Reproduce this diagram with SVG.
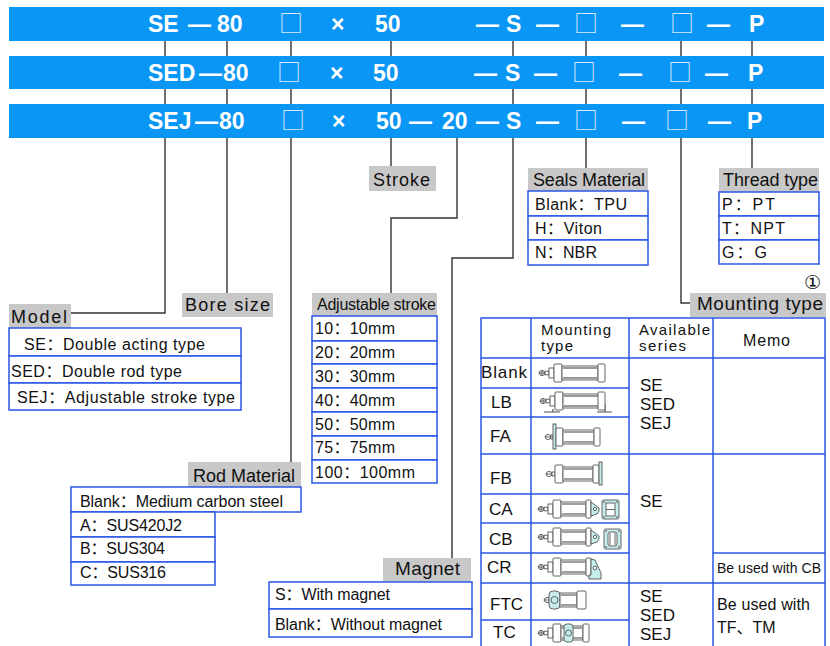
<svg xmlns="http://www.w3.org/2000/svg" width="830" height="646" viewBox="0 0 830 646">
<style>
text{font-family:"Liberation Sans","Noto Sans CJK SC",sans-serif;fill:#111}
.bt{font-weight:bold;font-size:23px;fill:#fff}
.sq{font-family:"Noto Sans CJK SC",sans-serif;font-size:24px;fill:#d6ebff}
.bar{fill:#0a96f5}
.lab{fill:#c8c8c8}
.lt{font-size:18px}
.cell{fill:#fff;stroke:#2a55e6;stroke-width:1.5}
.tl{stroke:#2a55e6;stroke-width:1.5;fill:none}
.ct{font-size:16px}
.ht{font-size:15px}
.conn{fill:none;stroke:#333;stroke-width:1.4}
.ic{fill:#fff;stroke:#555;stroke-width:0.9}
.cy{fill:#c6ecec;stroke:#555;stroke-width:0.9}
.in{stroke:#777;stroke-width:1.4}
</style>
<defs>
<g id="head">
<circle cx="3" cy="0" r="2.6" class="ic"/>
<line x1="-0.5" y1="0" x2="6.5" y2="0" stroke="#555" stroke-width="0.9"/>
<line x1="3" y1="-2.6" x2="3" y2="2.6" stroke="#555" stroke-width="0.9"/>
<rect x="6" y="-1.8" width="4" height="3.6" class="ic"/>
<rect x="10" y="-5" width="5" height="10" class="ic"/>
<rect x="15" y="-9" width="8" height="18" rx="1" class="ic"/>
</g>
<g id="tube36">
<rect x="0" y="-7" width="36" height="14" class="ic"/>
<line x1="1" y1="-5" x2="35" y2="-5" class="in"/>
<line x1="1" y1="5" x2="35" y2="5" class="in"/>
</g>
<g id="tube25">
<rect x="0" y="-7" width="25" height="14" class="ic"/>
<line x1="1" y1="-5" x2="24" y2="-5" class="in"/>
<line x1="1" y1="5" x2="24" y2="5" class="in"/>
</g>
</defs>
<rect width="830" height="646" fill="#fff"/>

<g id="connectors">
<path class="conn" d="M165,41 V313 H71"/>
<path class="conn" d="M227,41 V293"/>
<path class="conn" d="M291,41 V462"/>
<path class="conn" d="M391,41 V166"/>
<path class="conn" d="M457,138 V218 H391 V293"/>
<path class="conn" d="M513,41 V258 H452 V558"/>
<path class="conn" d="M586,41 V168"/>
<path class="conn" d="M681,41 V303 H690"/>
<path class="conn" d="M752,41 V168"/>
</g>

<g id="bar-SE">
<rect class="bar" x="9" y="7" width="815" height="34"/>
<text class="bt" x="148" y="32">SE</text>
<text class="bt" x="188" y="32">—</text>
<text class="bt" x="217" y="32">80</text>
<text class="sq" x="279" y="32">□</text>
<text class="bt" x="331" y="32">×</text>
<text class="bt" x="375" y="32">50</text>
<text class="bt" x="476" y="32">—</text>
<text class="bt" x="506" y="32">S</text>
<text class="bt" x="536" y="32">—</text>
<text class="sq" x="574" y="32">□</text>
<text class="bt" x="621" y="32">—</text>
<text class="sq" x="670" y="32">□</text>
<text class="bt" x="707" y="32">—</text>
<text class="bt" x="749" y="32">P</text>
</g>
<g id="bar-SED">
<rect class="bar" x="9" y="56" width="815" height="33"/>
<text class="bt" x="148" y="81">SED</text>
<text class="bt" x="199" y="81">—</text>
<text class="bt" x="223" y="81">80</text>
<text class="sq" x="277" y="81">□</text>
<text class="bt" x="330" y="81">×</text>
<text class="bt" x="373" y="81">50</text>
<text class="bt" x="474" y="81">—</text>
<text class="bt" x="505" y="81">S</text>
<text class="bt" x="534" y="81">—</text>
<text class="sq" x="572" y="81">□</text>
<text class="bt" x="619" y="81">—</text>
<text class="sq" x="668" y="81">□</text>
<text class="bt" x="705" y="81">—</text>
<text class="bt" x="748" y="81">P</text>
</g>
<g id="bar-SEJ">
<rect class="bar" x="9" y="104" width="815" height="34"/>
<text class="bt" x="148" y="129">SEJ</text>
<text class="bt" x="195" y="129">—</text>
<text class="bt" x="219" y="129">80</text>
<text class="sq" x="281" y="129">□</text>
<text class="bt" x="332" y="129">×</text>
<text class="bt" x="376" y="129">50</text>
<text class="bt" x="409" y="129">—</text>
<text class="bt" x="442" y="129">20</text>
<text class="bt" x="476" y="129">—</text>
<text class="bt" x="506" y="129">S</text>
<text class="bt" x="536" y="129">—</text>
<text class="sq" x="574" y="129">□</text>
<text class="bt" x="622" y="129">—</text>
<text class="sq" x="665" y="129">□</text>
<text class="bt" x="708" y="129">—</text>
<text class="bt" x="747" y="129">P</text>
</g>

<g id="model">
<rect class="lab" x="9" y="304" width="62" height="24"/>
<text class="lt" x="11" y="323" textLength="56">Model</text>
<rect class="cell" x="9" y="328" width="232" height="28"/>
<rect class="cell" x="9" y="356" width="232" height="27"/>
<rect class="cell" x="9" y="383" width="232" height="27"/>
<text class="ct" x="24" y="350" textLength="181">SE：Double acting type</text>
<text class="ct" x="11" y="377" textLength="171">SED：Double rod type</text>
<text class="ct" x="17" y="403" textLength="218">SEJ：Adjustable stroke type</text>
</g>

<g id="bore-size">
<rect class="lab" x="182" y="293" width="91" height="24"/>
<text class="lt" x="185" y="311" textLength="85">Bore size</text>
</g>

<g id="rod-material">
<rect class="lab" x="188" y="462" width="113" height="25"/>
<text class="lt" x="193" y="482" textLength="102">Rod Material</text>
<rect class="cell" x="71" y="487" width="230" height="25"/>
<rect class="cell" x="71" y="512" width="144" height="25"/>
<rect class="cell" x="71" y="537" width="144" height="25"/>
<rect class="cell" x="71" y="562" width="144" height="23"/>
<text class="ct" x="80" y="507" textLength="203">Blank：Medium carbon steel</text>
<text class="ct" x="80" y="531" textLength="102">A：SUS420J2</text>
<text class="ct" x="80" y="554" textLength="85">B：SUS304</text>
<text class="ct" x="80" y="578" textLength="86">C：SUS316</text>
</g>

<g id="stroke">
<rect class="lab" x="369" y="166" width="67" height="25"/>
<text class="lt" x="373" y="186" textLength="57">Stroke</text>
</g>

<g id="adjustable-stroke">
<rect class="lab" x="312" y="293" width="125" height="23"/>
<text class="ct" x="317" y="310" textLength="119">Adjustable stroke</text>
<rect class="cell" x="312" y="316" width="125" height="25"/>
<rect class="cell" x="312" y="341" width="125" height="23"/>
<rect class="cell" x="312" y="364" width="125" height="24"/>
<rect class="cell" x="312" y="388" width="125" height="24"/>
<rect class="cell" x="312" y="412" width="125" height="24"/>
<rect class="cell" x="312" y="436" width="125" height="24"/>
<rect class="cell" x="312" y="460" width="125" height="23"/>
<text class="ct" x="315" y="334" textLength="80">10：10mm</text>
<text class="ct" x="315" y="358" textLength="80">20：20mm</text>
<text class="ct" x="315" y="382" textLength="80">30：30mm</text>
<text class="ct" x="315" y="406" textLength="80">40：40mm</text>
<text class="ct" x="315" y="430" textLength="80">50：50mm</text>
<text class="ct" x="315" y="453" textLength="80">75：75mm</text>
<text class="ct" x="315" y="478" textLength="100">100：100mm</text>
</g>

<g id="magnet">
<rect class="lab" x="383" y="558" width="88" height="24"/>
<text class="lt" x="395" y="575" textLength="65" style="font-size:19px">Magnet</text>
<rect class="cell" x="269" y="582" width="203" height="27"/>
<rect class="cell" x="269" y="609" width="203" height="28"/>
<text class="ct" x="275" y="600" textLength="115">S：With magnet</text>
<text class="ct" x="275" y="630" textLength="167">Blank：Without magnet</text>
</g>

<g id="seals-material">
<rect class="lab" x="528" y="168" width="120" height="23"/>
<text class="lt" x="533" y="186" textLength="112">Seals Material</text>
<rect class="cell" x="528" y="191" width="120" height="25"/>
<rect class="cell" x="528" y="216" width="120" height="24"/>
<rect class="cell" x="528" y="240" width="120" height="25"/>
<text class="ct" x="535" y="210" textLength="92">Blank：TPU</text>
<text class="ct" x="535" y="234" textLength="67">H：Viton</text>
<text class="ct" x="535" y="258" textLength="62">N：NBR</text>
</g>

<g id="thread-type">
<rect class="lab" x="719" y="168" width="100" height="24"/>
<text class="lt" x="723" y="186" textLength="95">Thread type</text>
<rect class="cell" x="719" y="192" width="100" height="24"/>
<rect class="cell" x="719" y="216" width="100" height="24"/>
<rect class="cell" x="719" y="240" width="100" height="24"/>
<text class="ct" x="722" y="210" textLength="53">P：PT</text>
<text class="ct" x="722" y="234" textLength="63">T：NPT</text>
<text class="ct" x="722" y="258" textLength="45">G：G</text>
</g>

<g id="mounting-type">
<text x="804" y="289" style="font-family:'DejaVu Sans',sans-serif;font-size:19px">①</text>
<rect class="lab" x="690" y="293" width="136" height="24"/>
<text class="lt" x="697" y="310" textLength="126" style="font-size:19px">Mounting type</text>
<rect class="cell" x="481" y="318" width="344" height="340"/>
<path class="tl" d="M531,318 V660 M629,318 V660 M713,318 V660 M481,358 H825 M481,388 H629 M481,417 H629 M481,454 H825 M481,494 H629 M481,523 H629 M481,553 H629 M713,553 H825 M481,583 H825 M481,620 H629"/>
<text class="ht" x="541" y="335" textLength="70">Mounting</text>
<text class="ht" x="541" y="351" textLength="32">type</text>
<text class="ht" x="639" y="335" textLength="71">Available</text>
<text class="ht" x="639" y="351" textLength="47">series</text>
<text class="ct" x="743" y="346" textLength="47">Memo</text>
<g style="font-size:17px">
<text x="481" y="378" textLength="46">Blank</text>
<text x="491" y="408">LB</text>
<text x="490" y="442">FA</text>
<text x="490" y="484">FB</text>
<text x="489" y="515">CA</text>
<text x="489" y="545">CB</text>
<text x="487" y="573">CR</text>
<text x="490" y="610">FTC</text>
<text x="493" y="638">TC</text>
<text x="640" y="391">SE</text>
<text x="640" y="410">SED</text>
<text x="640" y="429">SEJ</text>
<text x="640" y="507">SE</text>
<text x="640" y="602">SE</text>
<text x="640" y="621">SED</text>
<text x="640" y="640">SEJ</text>
</g>
<text x="717" y="573" textLength="104" style="font-size:14px">Be used with CB</text>
<text class="ct" x="717" y="610" textLength="93">Be used with</text>
<text class="ct" x="717" y="633">TF、TM</text>

<!-- Blank -->
<use href="#head" x="539" y="373"/>
<use href="#tube36" x="562" y="373"/>
<rect x="598" y="364" width="7" height="18" rx="1" class="ic"/>
<!-- LB -->
<path d="M544,412 H560 M553,409 V412 M597,412 H612 M605,404 V412" stroke="#555" stroke-width="1.2" fill="none"/>
<use href="#head" x="540" y="401"/>
<use href="#tube36" x="563" y="401"/>
<rect x="598" y="392" width="7" height="18" rx="1" class="ic"/>
<!-- FA -->
<circle cx="548" cy="437" r="2.6" class="ic"/>
<line x1="544.5" y1="437" x2="551.5" y2="437" stroke="#555" stroke-width="0.9"/>
<rect x="551" y="435" width="2" height="4" class="ic"/>
<rect x="553" y="424" width="3" height="25" class="cy"/>
<rect x="556" y="428" width="7" height="18" rx="1" class="ic"/>
<rect x="563" y="430" width="31" height="14" class="ic"/>
<line x1="564" y1="432" x2="593" y2="432" class="in"/>
<line x1="564" y1="442" x2="593" y2="442" class="in"/>
<rect x="594" y="428" width="6" height="18" rx="1" class="ic"/>
<!-- FB -->
<circle cx="549" cy="474" r="2.6" class="ic"/>
<line x1="545.5" y1="474" x2="552.5" y2="474" stroke="#555" stroke-width="0.9"/>
<rect x="552" y="472" width="3" height="4" class="ic"/>
<rect x="555" y="465" width="8" height="18" rx="1" class="ic"/>
<rect x="563" y="467" width="30" height="14" class="ic"/>
<line x1="564" y1="469" x2="592" y2="469" class="in"/>
<line x1="564" y1="479" x2="592" y2="479" class="in"/>
<rect x="593" y="465" width="6" height="18" rx="1" class="ic"/>
<rect x="599" y="462" width="3" height="23" class="cy"/>
<!-- CA -->
<use href="#head" x="538" y="509"/>
<use href="#tube25" x="561" y="509"/>
<rect x="586" y="500" width="5" height="18" rx="1" class="ic"/>
<path d="M591,502 L599,508 Q600,511 597,514 L591,516 Z" class="cy"/>
<circle cx="595" cy="509" r="1.6" class="ic"/>
<rect x="602" y="500" width="17" height="19" rx="1.5" class="cy"/>
<rect x="606" y="503" width="9" height="13" class="ic"/>
<line x1="606" y1="509.5" x2="615" y2="509.5" stroke="#555" stroke-width="0.9"/>
<g fill="#777"><circle cx="604" cy="502" r="1"/><circle cx="617" cy="502" r="1"/><circle cx="604" cy="517" r="1"/><circle cx="617" cy="517" r="1"/></g>
<!-- CB -->
<use href="#head" x="538" y="537"/>
<use href="#tube25" x="561" y="537"/>
<rect x="586" y="528" width="5" height="18" rx="1" class="ic"/>
<path d="M591,530 L599,536 Q600,539 597,542 L591,544 Z" class="cy"/>
<circle cx="595" cy="537" r="1.6" class="ic"/>
<rect x="604" y="529" width="17" height="20" rx="1.5" class="cy"/>
<rect x="608" y="532" width="9" height="14" rx="2" class="ic"/>
<line x1="610" y1="533" x2="610" y2="545" stroke="#555" stroke-width="0.9"/>
<line x1="615" y1="533" x2="615" y2="545" stroke="#555" stroke-width="0.9"/>
<g fill="#777"><circle cx="606" cy="531" r="1"/><circle cx="619" cy="531" r="1"/><circle cx="606" cy="547" r="1"/><circle cx="619" cy="547" r="1"/></g>
<!-- CR -->
<use href="#head" x="538" y="567"/>
<use href="#tube25" x="561" y="567"/>
<rect x="586" y="558" width="5" height="18" rx="1" class="ic"/>
<path d="M591,559 L595,560 L601,573 L601,579 L589,579 L589,575 L591,575 Z" class="cy"/>
<circle cx="595" cy="568" r="1.8" class="ic"/>
<!-- FTC -->
<circle cx="547" cy="600" r="2.6" class="ic"/>
<line x1="543.5" y1="600" x2="550.5" y2="600" stroke="#555" stroke-width="0.9"/>
<rect x="549" y="591" width="11" height="18" rx="4" class="cy"/>
<circle cx="554.5" cy="600" r="3.5" class="cy"/>
<rect x="560" y="593" width="17" height="14" class="ic"/>
<line x1="561" y1="595" x2="576" y2="595" class="in"/>
<line x1="561" y1="605" x2="576" y2="605" class="in"/>
<rect x="577" y="591" width="9" height="18" rx="1" class="ic"/>
<!-- TC -->
<use href="#head" x="538" y="633"/>
<rect x="561" y="626" width="22" height="14" class="ic"/>
<line x1="562" y1="628" x2="582" y2="628" class="in"/>
<line x1="562" y1="638" x2="582" y2="638" class="in"/>
<rect x="564" y="624" width="9" height="18" rx="3" class="cy"/>
<circle cx="568.5" cy="633" r="3" class="cy"/>
<rect x="583" y="624" width="6" height="18" rx="1" class="ic"/>
</g>
</svg>
